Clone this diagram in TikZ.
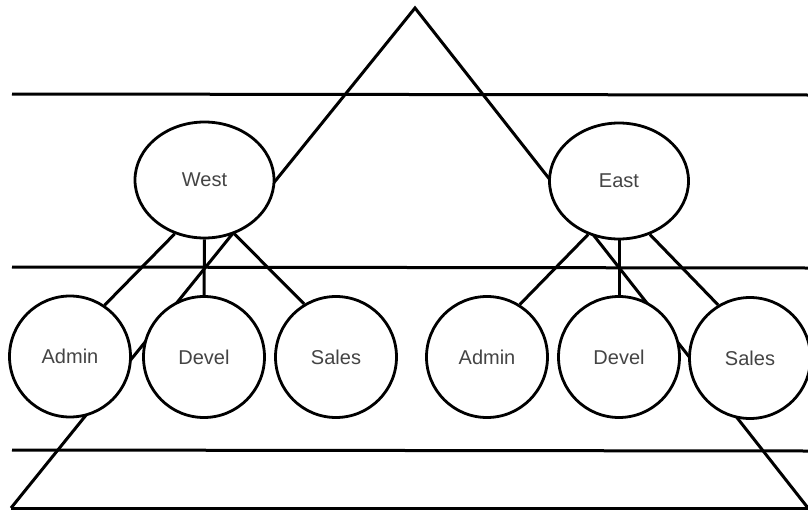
\documentclass[tikz,border=0pt]{standalone}
\usepackage{fontspec}
\newfontfamily\lblfont{Liberation Sans}
\usetikzlibrary{shapes.geometric}
\definecolor{txt}{HTML}{444444}
\tikzset{
  ln/.style={line width=3pt, black},
  big/.style={ellipse, draw, line width=2.8pt, fill=white, inner sep=0pt,
    font=\lblfont\fontsize{20}{24}\selectfont, text=txt},
  up/.style={big, minimum width=139pt, minimum height=116pt},
  low/.style={big, minimum width=121pt, minimum height=121pt},
  edge/.style={line width=3pt, black}
}
\begin{document}
\begin{tikzpicture}[x=1pt,y=-1pt]
\useasboundingbox[fill=white] (0,0) rectangle (808,514);
% triangle
\coordinate (apex) at (415,8);
\coordinate (bl) at (11,508);
\coordinate (br) at (808,508);
\draw[ln, line join=miter] (bl) -- (apex) -- (br);
\draw[ln] (bl) -- (br);
% horizontal lines
\coordinate (h1l) at (12,94);  \coordinate (h1r) at (808,95);
\coordinate (h2l) at (12,267); \coordinate (h2r) at (808,268);
\coordinate (h3l) at (12,450); \coordinate (h3r) at (808,451);
\draw[ln] (h1l) -- (h1r);
\draw[ln] (h2l) -- (h2r);
\draw[ln] (h3l) -- (h3r);
% nodes
\node[up] (west) at (204.5,180) {West};
\node[up] (east) at (619,181) {East};
\node[low] (wadmin) at (70,356.5) {Admin};
\node[low] (wdevel) at (204,357) {Devel};
\node[low] (wsales) at (336,357) {Sales};
\node[low] (eadmin) at (487,357) {Admin};
\node[low] (edevel) at (619,357) {Devel};
\node[low] (esales) at (750,358) {Sales};
% edges
\draw[edge] (west.241) -- (wadmin.56);
\draw[edge] (west.south) -- (wdevel.north);
\draw[edge] (west.299) -- (wsales.121);
\draw[edge] (east.240) -- (eadmin.58);
\draw[edge] (east.south) -- (edevel.north);
\draw[edge] (east.300) -- (esales.121);
\end{tikzpicture}
\end{document}
